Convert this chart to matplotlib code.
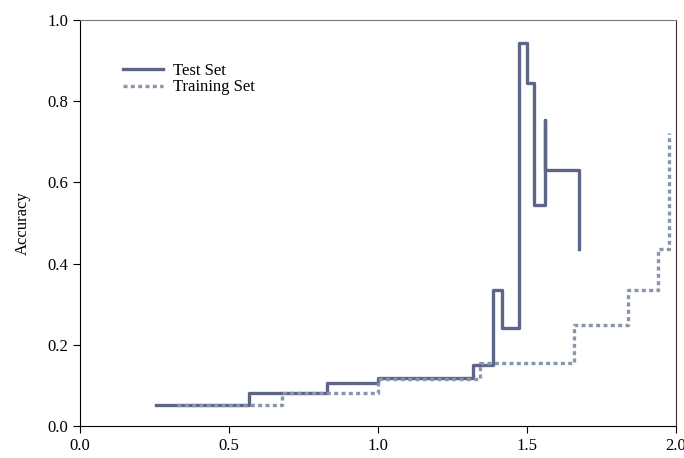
import matplotlib
matplotlib.use("Agg")
import matplotlib.pyplot as plt

plt.rcParams['font.family'] = ['Liberation Serif', 'DejaVu Serif']

# Step data (drawn with steps-post)
test_x = [0.255, 0.568, 0.829, 1.0, 1.318, 1.385, 1.415, 1.472, 1.499, 1.522, 1.559, 1.559, 1.676]
test_y = [0.052, 0.081, 0.106, 0.118, 0.150, 0.335, 0.241, 0.943, 0.845, 0.544, 0.754, 0.631, 0.436]

train_x = [0.325, 0.679, 1.0, 1.342, 1.657, 1.84, 1.938, 1.975]
train_y = [0.052, 0.081, 0.116, 0.155, 0.249, 0.335, 0.436, 0.722]

xticks = [0.0, 0.5, 1.0, 1.5, 2.0]
yticks = [0.0, 0.2, 0.4, 0.6, 0.8, 1.0]

fig = plt.figure(figsize=(6.84, 4.58), dpi=100)
ax = fig.add_axes([80 / 684, 1 - 426 / 458, 596 / 684, 406 / 458])

ax.plot(test_x, test_y, drawstyle='steps-post', color='#5d6588', lw=2.4,
        label='Test Set')
ax.plot(train_x, train_y, drawstyle='steps-post', color='#8797ab', lw=2.4,
        linestyle=(0, (1.2, 1.0)), label='Training Set')

ax.set_xlim(0, 2)
ax.set_ylim(0, 1)
ax.set_xticks(xticks)
ax.set_yticks(yticks)
ax.set_xticklabels([f"{v:.1f}" for v in xticks])
ax.set_yticklabels([f"{v:.1f}" for v in yticks])
ax.tick_params(direction='out', length=5, labelsize=12, colors='black')
ax.tick_params(top=False, right=False)
ax.set_ylabel('Accuracy', fontsize=12, labelpad=12)

ax.spines['top'].set_color('#777777')
ax.spines['right'].set_color('#333333')

ax.legend(loc='upper left', bbox_to_anchor=(0.047, 0.932), frameon=False,
          fontsize=12, handlelength=2.4, labelspacing=0.05, handletextpad=0.6)

fig.savefig('out.png', dpi=100)
